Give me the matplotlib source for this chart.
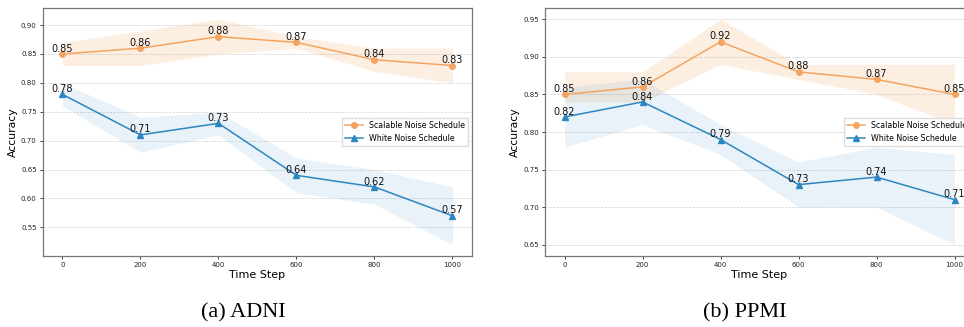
import matplotlib
matplotlib.use('Agg')
import matplotlib.pyplot as plt
import numpy as np

steps = [0, 200, 400, 600, 800, 1000]

# ADNI
adni_scalable = [0.85, 0.86, 0.88, 0.87, 0.84, 0.83]
adni_scalable_lo = [0.83, 0.83, 0.85, 0.86, 0.82, 0.80]
adni_scalable_hi = [0.87, 0.89, 0.91, 0.88, 0.86, 0.86]
adni_white = [0.78, 0.71, 0.73, 0.64, 0.62, 0.57]
adni_white_lo = [0.76, 0.68, 0.71, 0.61, 0.59, 0.52]
adni_white_hi = [0.80, 0.74, 0.75, 0.67, 0.65, 0.62]

# PPMI
ppmi_scalable = [0.85, 0.86, 0.92, 0.88, 0.87, 0.85]
ppmi_scalable_lo = [0.84, 0.84, 0.89, 0.87, 0.85, 0.81]
ppmi_scalable_hi = [0.88, 0.88, 0.95, 0.89, 0.89, 0.89]
ppmi_white = [0.82, 0.84, 0.79, 0.73, 0.74, 0.71]
ppmi_white_lo = [0.78, 0.81, 0.77, 0.70, 0.70, 0.65]
ppmi_white_hi = [0.86, 0.87, 0.81, 0.76, 0.78, 0.77]

captions = ['(a) ADNI', '(b) PPMI']

orange = '#f4a460'
blue = '#2e86c1'

fig = plt.figure(figsize=(9.64, 3.27), dpi=100)

panels = [
    (adni_scalable, adni_scalable_lo, adni_scalable_hi, adni_white, adni_white_lo, adni_white_hi),
    (ppmi_scalable, ppmi_scalable_lo, ppmi_scalable_hi, ppmi_white, ppmi_white_lo, ppmi_white_hi),
]
lefts = [0.0446, 0.5654]

for left, data, caption in zip(lefts, panels, captions):
    sc, sc_lo, sc_hi, wh, wh_lo, wh_hi = data
    ax = fig.add_axes([left, 0.2171, 0.445, 0.7584])

    ax.plot(steps, sc, color=orange, marker='o', markersize=4, linewidth=1.1,
            label='Scalable Noise Schedule')
    ax.fill_between(steps, sc_lo, sc_hi, color=orange, alpha=0.18, linewidth=0)
    ax.plot(steps, wh, color=blue, marker='^', markersize=4, linewidth=1.1,
            label='White Noise Schedule')
    ax.fill_between(steps, wh_lo, wh_hi, color=blue, alpha=0.1, linewidth=0)

    # value labels sitting right on top of each point
    for series in (sc, wh):
        for x, y in zip(steps, series):
            ax.annotate(f'{y:.2f}', (x, y), xytext=(0, 0.3), textcoords='offset points',
                        ha='center', va='bottom', fontsize=7, color='#111111')

    ax.set_xticks(steps)
    ax.yaxis.set_major_locator(matplotlib.ticker.MultipleLocator(0.05))
    ax.yaxis.set_major_formatter(matplotlib.ticker.FormatStrFormatter('%.2f'))
    ax.tick_params(labelsize=5, length=2.5, width=0.6, colors='#222222', pad=2)
    ax.grid(axis='y', linestyle='--', linewidth=0.5, color='#d0d0d0')
    ax.set_axisbelow(True)
    for sp in ax.spines.values():
        sp.set_color('#777777')
        sp.set_linewidth(0.9)

    ax.set_xlabel('Time Step', fontsize=8, labelpad=1)
    ax.set_ylabel('Accuracy', fontsize=7.8, labelpad=2)
    ax.legend(loc='center right', fontsize=5.7, borderaxespad=0.5, handlelength=2.2,
              fancybox=False, edgecolor='#dddddd', framealpha=1)

    fig.text(left + 0.2225 - 0.015, 0.015, caption, ha='center', va='bottom',
             fontsize=16, family='Liberation Serif')

fig.savefig('out.png', dpi=100)
